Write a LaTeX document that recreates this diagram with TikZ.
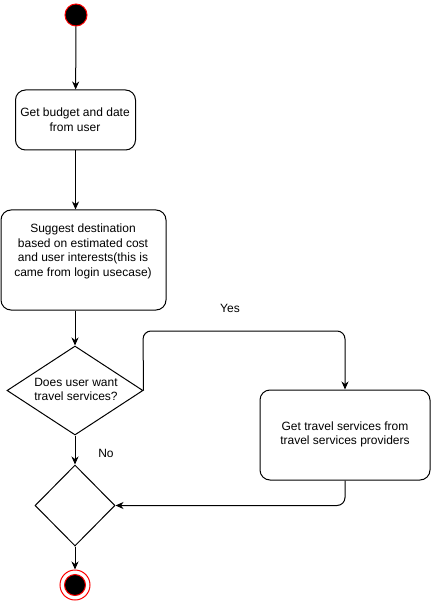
\documentclass[tikz,border=0pt]{standalone}
\usepackage{fontspec}
\setmainfont{Liberation Sans}
\usepackage{tikz}
\usetikzlibrary{shapes.geometric,arrows.meta}

\begin{document}
\begin{tikzpicture}[x=1pt,y=-1pt,line width=1pt,
        >={Stealth[length=8pt,width=7pt,inset=2.5pt]},
        every node/.style={font=\fontsize{12}{14.5}\selectfont},
        act/.style={draw,rounded corners=10pt,inner sep=0pt},
        ask/.style={draw,diamond,inner sep=0pt},
        txt/.style={align=center,inner sep=0pt}]
        \useasboundingbox (0,0) rectangle (431,601);
        % Debut et fin
        \node[circle,fill=black,draw=red,minimum size=22,inner sep=0pt] (start) at (76,15) {};
        \node[circle,draw=red,minimum size=30,inner sep=0pt] (finish) at (75,585) {};
        \node[circle,fill=black,draw=red,minimum size=21,inner sep=0pt] (finishdot) at (75,585) {};
        % Activites
        \node[act,minimum width=120,minimum height=60] (budget) at (75.5,120) {};
        \node[txt] (budgettxt) at (75,119.5) {Get budget and date\\from user};
        \node[act,minimum width=165,minimum height=100] (suggest) at (83.5,260) {};
        \node[txt] (suggesttxt) at (83,251.5) {Suggest destination\\based on estimated cost\\and user interests(this is\\came from login usecase)};
        \node[act,minimum width=170,minimum height=90] (services) at (345,435) {};
        \node[txt] (servicestxt) at (345,434.5) {Get travel services from\\travel services providers};
        % Decisions
        \node[ask,minimum width=136,minimum height=89] (want) at (75,390.5) {};
        \node[txt] (wanttxt) at (76,389.5) {Does user want\\travel services?};
        \node[ask,minimum width=80,minimum height=81] (merge) at (75,505.5) {};
        % Etiquettes
        \node (yes) at (230,308) {Yes};
        \node (no) at (106,453) {No};
        % Fleches
        \draw[->] (start) -- (budget);
        \draw[->] (budget.south) -- (budget.south |- suggest.north);
        \draw[->] (suggest.south -| want.north) -- (want.north);
        \coordinate (yestop) at (143,331);
        \draw[->,rounded corners=8pt] (want.east) -- (yestop) -| (services.north);
        \draw[->] (want.south) -- (merge.north);
        \draw[->,rounded corners=8pt] (services.south) |- (merge.east);
        \draw[->] (merge.south) -- (finish.north);
\end{tikzpicture}
\end{document}
